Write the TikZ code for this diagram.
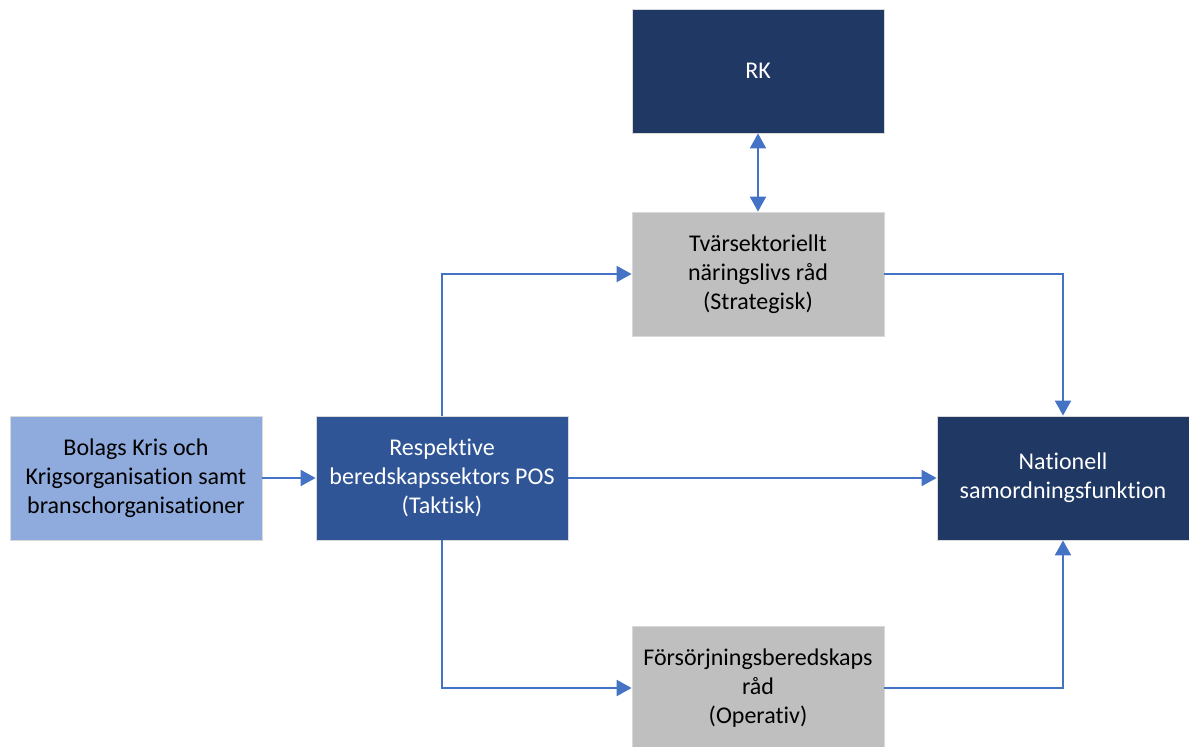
\documentclass[tikz,border=0pt]{standalone}
\usepackage{fontspec}
\setmainfont{Carlito}[Ligatures=NoCommon]
\usetikzlibrary{arrows.meta}
\definecolor{navy}{HTML}{203864}
\definecolor{midblue}{HTML}{2F5597}
\definecolor{lightblue}{HTML}{8FAADC}
\definecolor{boxgray}{HTML}{BFBFBF}
\definecolor{arrowblue}{HTML}{4472C4}
\definecolor{edgegray}{HTML}{D9D9D9}
\tikzset{
  box/.style={rectangle, draw=edgegray, line width=0.8pt, minimum width=252pt, minimum height=124pt,
    align=center, inner sep=2pt, font=\fontsize{24}{29}\selectfont},
  darkbox/.style={box, fill=navy, text=white},
  bluebox/.style={box, fill=midblue, text=white},
  lightbox/.style={box, fill=lightblue, text=black},
  graybox/.style={box, fill=boxgray, text=black},
  conn/.style={draw=arrowblue, line width=2pt, -{Triangle[length=15pt,width=16pt]}},
  biconn/.style={draw=arrowblue, line width=2pt, {Triangle[length=15pt,width=16pt]}-{Triangle[length=15pt,width=16pt]}}
}
\begin{document}
\begin{tikzpicture}[x=1pt,y=-1pt]
\useasboundingbox (0,0) rectangle (1189,747);
\node[darkbox] (rk) at (758,71) {RK};
\node[graybox] (tv) at (758,274) {Tvärsektoriellt\\näringslivs råd\\(Strategisk)};
\node[lightbox] (bo) at (136,478) {Bolags Kris och\\Krigsorganisation samt\\branschorganisationer};
\node[bluebox] (re) at (442,478) {Respektive\\beredskapssektors POS\\(Taktisk)};
\node[darkbox] (na) at (1063,478) {Nationell\\samordningsfunktion};
\node[graybox] (fo) at (758,688) {Försörjningsberedskaps\\råd\\(Operativ)};
\draw[biconn] (rk.south) -- (tv.north);
\draw[conn] (bo.east) -- (re.west);
\draw[conn] (re.east) -- (na.west);
\draw[conn] (re.north) |- (tv.west);
\draw[conn] (tv.east) -| (na.north);
\draw[conn] (re.south) |- (fo.west);
\draw[conn] (fo.east) -| (na.south);
\end{tikzpicture}
\end{document}
